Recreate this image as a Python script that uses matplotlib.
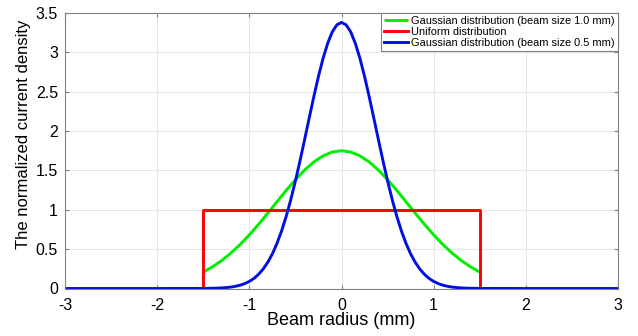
import numpy as np
import matplotlib.pyplot as plt

plt.rcParams['font.family'] = ['Liberation Sans', 'DejaVu Sans']
plt.rcParams['axes.unicode_minus'] = False

# values (symmetric about 0, listed for x >= 0)
x_half_blue = [0.0, 0.05, 0.1, 0.15, 0.2, 0.25, 0.3, 0.35, 0.4, 0.45, 0.5, 0.55,
               0.6, 0.65, 0.7, 0.75, 0.8, 0.85, 0.9, 0.95, 1.0, 1.05, 1.1, 1.15,
               1.2, 1.25, 1.3, 1.4, 1.5, 2.0, 3.0]
y_half_blue = [3.38, 3.35, 3.26, 3.115, 2.924, 2.695, 2.439, 2.168, 1.893, 1.623,
               1.366, 1.130, 0.917, 0.731, 0.573, 0.440, 0.333, 0.247, 0.180, 0.128,
               0.090, 0.062, 0.042, 0.028, 0.018, 0.012, 0.007, 0.003, 0.001, 0.0, 0.0]

x_half_green = [0.0, 0.1, 0.2, 0.3, 0.4, 0.5, 0.6, 0.7, 0.8, 0.9, 1.0, 1.1, 1.2,
                1.3, 1.4, 1.5]
y_half_green = [1.75, 1.734, 1.685, 1.608, 1.505, 1.382, 1.246, 1.102, 0.957,
                0.815, 0.681, 0.559, 0.450, 0.355, 0.275, 0.209]

x_uniform = [-3.0, -1.5, -1.5, 1.5, 1.5, 3.0]
y_uniform = [0.0, 0.0, 1.0, 1.0, 0.0, 0.0]

labels = ['Gaussian distribution (beam size 1.0 mm)',
          'Uniform distribution',
          'Gaussian distribution (beam size 0.5 mm)']


def mirror(xs, ys):
    xs = np.asarray(xs)
    ys = np.asarray(ys)
    return np.concatenate([-xs[:0:-1], xs]), np.concatenate([ys[:0:-1], ys])


xb, yb = mirror(x_half_blue, y_half_blue)
xg, yg = mirror(x_half_green, y_half_green)

fig = plt.figure(figsize=(6.38, 3.36), dpi=100)
# axes box: x 65..618 px, y 13..288.5 px
ax = fig.add_axes([65 / 638, 1 - 288.5 / 336, 553 / 638, 275.5 / 336])

ax.plot(xg, yg, color='#00ee00', lw=2.1, label=labels[0], solid_capstyle='butt')
ax.plot(x_uniform, y_uniform, color='#ff0000', lw=2.1, label=labels[1])
ax.plot(xb, yb, color='#0010e0', lw=2.1, label=labels[2])

ax.set_xlim(-3, 3)
ax.set_ylim(0, 3.5)
ax.set_xticks(np.arange(-3, 4, 1))
ax.set_yticks(np.arange(0, 3.6, 0.5))
ax.set_yticklabels(['0', '0.5', '1', '1.5', '2', '2.5', '3', '3.5'])
ax.grid(True, color='#e6e6e6', lw=0.8)
ax.set_axisbelow(True)
for s in ax.spines.values():
    s.set_color('#808080')
    s.set_linewidth(0.8)
ax.tick_params(direction='in', length=3, color='#808080', labelsize=11.5,
               top=True, right=True)
ax.tick_params(axis='x', pad=7)
ax.tick_params(axis='y', pad=5)

ax.set_xlabel('Beam radius (mm)', fontsize=13, labelpad=-1)
ax.set_ylabel('The normalized current density', fontsize=12)
ax.yaxis.set_label_coords(-0.061, 0.56)

leg = ax.legend(loc='upper right', fontsize=7.9, handlelength=2.2,
                handletextpad=0.3, borderpad=0.28, labelspacing=0.08,
                fancybox=False, borderaxespad=0.0)
leg.get_frame().set_edgecolor('#808080')
leg.get_frame().set_linewidth(0.8)
leg.get_frame().set_alpha(1)

fig.savefig('out.png', dpi=100)
